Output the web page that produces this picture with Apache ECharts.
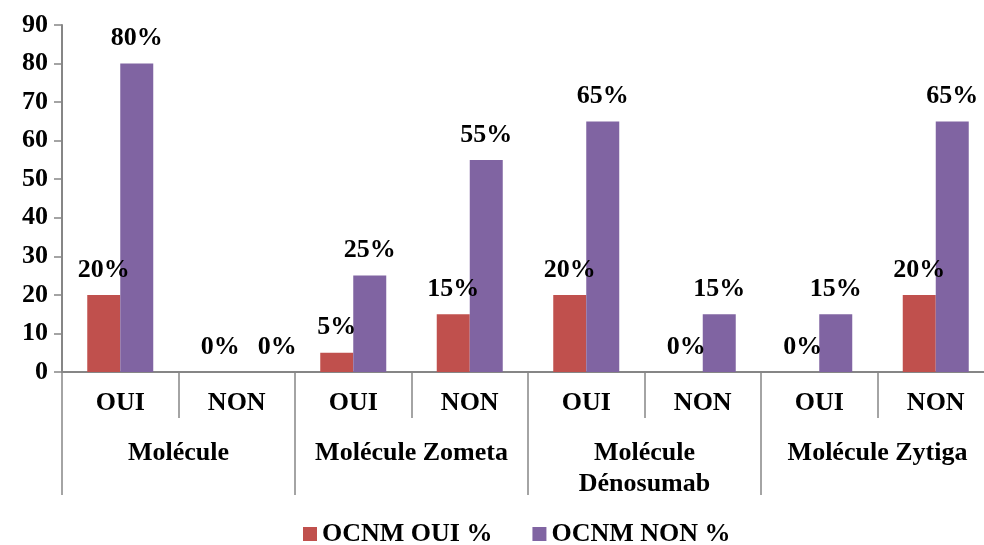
<!DOCTYPE html>
<html>
<head>
<meta charset="utf-8">
<script src="https://cdn.jsdelivr.net/npm/echarts@6/dist/echarts.min.js"></script>
<style>
html,body{margin:0;padding:0;background:#fff;}
#chart{width:984px;height:545px;}
</style>
</head>
<body>
<div id="chart"></div>
<script>
// Data
var subCategories = ['OUI', 'NON', 'OUI', 'NON', 'OUI', 'NON', 'OUI', 'NON'];
var groupCategories = ['Molécule', 'Molécule Zometa', 'Molécule\nDénosumab', 'Molécule Zytiga'];
var seriesNames = ['OCNM OUI %', 'OCNM NON %'];
var ocnmOui = [20, 0, 5, 15, 20, 0, 0, 20];
var ocnmNon = [80, 0, 25, 55, 65, 15, 15, 65];
var yTicks = [0, 10, 20, 30, 40, 50, 60, 70, 80, 90];

var FONT = "'Liberation Serif', 'Times New Roman', serif";
var AXIS_COLOR = '#868686';
var FS = 26;

// label nudges (style only, index -> offset) for overlapping zero labels
var nonLabelOffsets = {1: [24, 0]};

function buildData(values, offsets) {
  return values.map(function (v, i) {
    var item = {value: v};
    if (offsets && offsets[i]) item.label = {offset: offsets[i]};
    return item;
  });
}

var labelStyle = {
  show: true,
  position: 'top',
  distance: 12,
  formatter: '{c}%',
  fontFamily: FONT,
  fontWeight: 'bold',
  fontSize: FS,
  color: '#000'
};

var chart = echarts.init(document.getElementById('chart'), null, {renderer: 'canvas'});
chart.setOption({
  animation: false,
  backgroundColor: '#fff',
  grid: {left: 62, top: 25, right: -10, bottom: 173, containLabel: false, outerBoundsMode: 'none'},
  legend: {
    top: 516,
    left: 298,
    itemWidth: 14,
    itemHeight: 14,
    itemGap: 40,
    icon: 'rect',
    data: seriesNames,
    textStyle: {fontFamily: FONT, fontWeight: 'bold', fontSize: FS, color: '#000'}
  },
  xAxis: [
    {
      type: 'category',
      data: subCategories,
      position: 'bottom',
      offset: 0,
      axisLine: {show: true, lineStyle: {color: AXIS_COLOR, width: 2}},
      axisTick: {show: true, interval: 0, length: 46, lineStyle: {color: AXIS_COLOR, width: 1.5}},
      axisLabel: {interval: 0, margin: 18, fontFamily: FONT, fontWeight: 'bold', fontSize: FS, color: '#000'}
    },
    {
      type: 'category',
      data: groupCategories,
      position: 'bottom',
      offset: 0,
      axisLine: {show: false},
      axisTick: {show: true, interval: 0, length: 123, lineStyle: {color: AXIS_COLOR, width: 1.5}},
      axisLabel: {interval: 0, margin: 66, lineHeight: 31, fontFamily: FONT, fontWeight: 'bold', fontSize: FS, color: '#000'}
    }
  ],
  yAxis: {
    type: 'value',
    min: yTicks[0],
    max: yTicks[yTicks.length - 1],
    interval: 10,
    splitLine: {show: false},
    axisLine: {show: true, lineStyle: {color: AXIS_COLOR, width: 2}},
    axisTick: {show: true, inside: false, length: 8, lineStyle: {color: AXIS_COLOR, width: 1.5}},
    axisLabel: {margin: 14, fontFamily: FONT, fontWeight: 'bold', fontSize: FS, color: '#000'}
  },
  series: [
    {
      name: seriesNames[0],
      type: 'bar',
      xAxisIndex: 0,
      barWidth: 33,
      barGap: '0%',
      itemStyle: {color: '#C0504D'},
      label: labelStyle,
      data: buildData(ocnmOui)
    },
    {
      name: seriesNames[1],
      type: 'bar',
      xAxisIndex: 0,
      barWidth: 33,
      barGap: '0%',
      itemStyle: {color: '#8064A2'},
      label: labelStyle,
      data: buildData(ocnmNon, nonLabelOffsets)
    }
  ]
});
</script>
</body>
</html>
